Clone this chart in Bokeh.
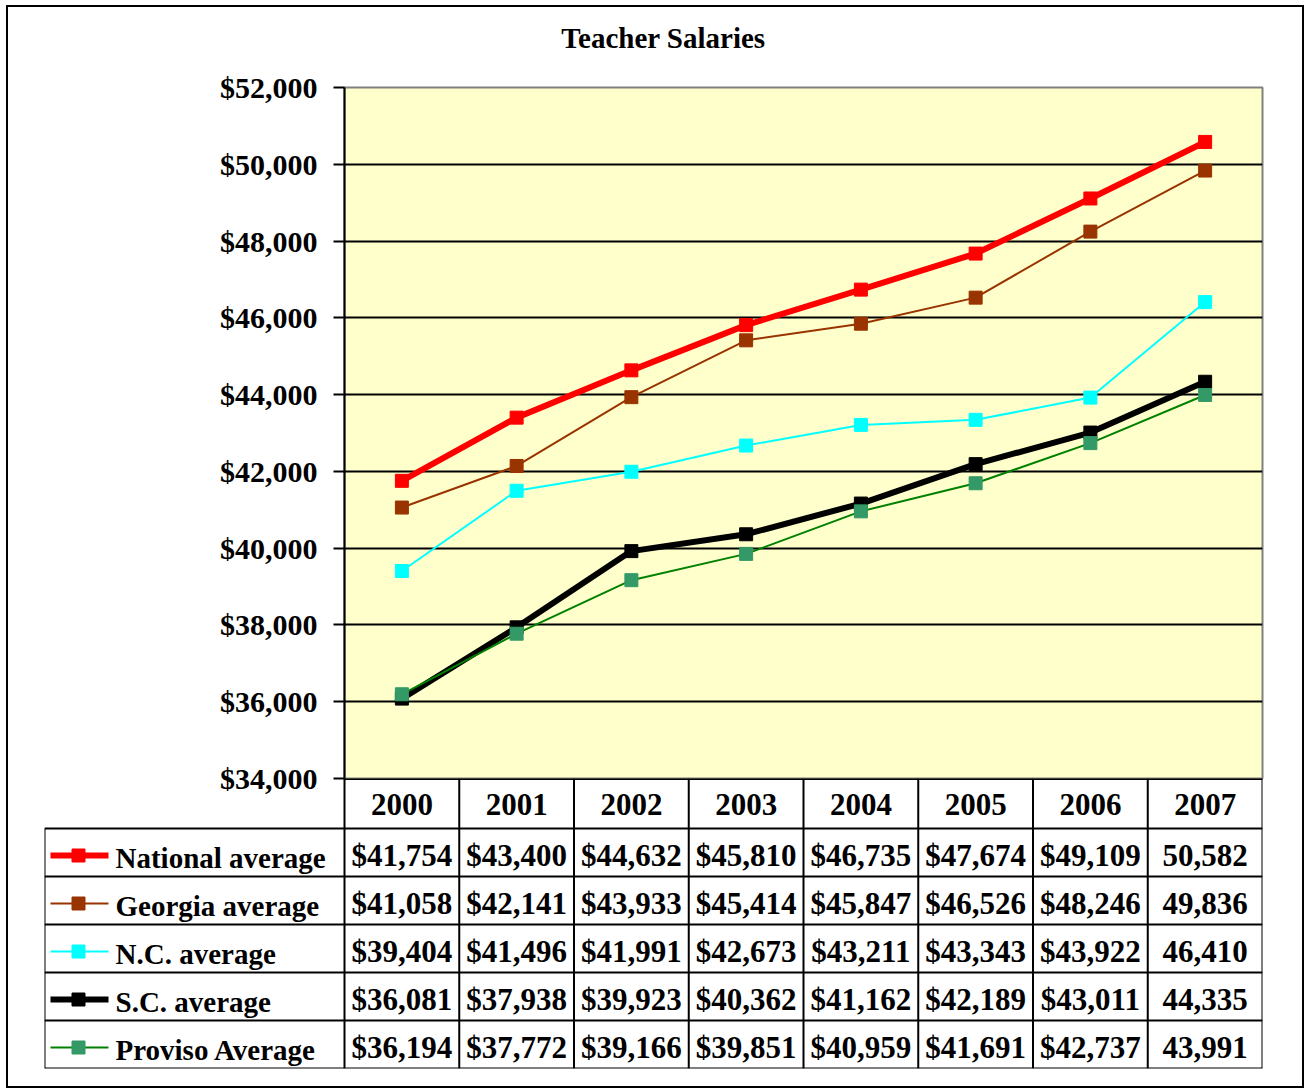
from bokeh.plotting import figure
from bokeh.layouts import column
from bokeh.models import (Range1d, FixedTicker, NumeralTickFormatter,
                          ColumnDataSource)
from bokeh.embed import file_html
from bokeh.resources import INLINE
from bokeh.core.properties import value

# ---------------- data ----------------
chart_title = "Teacher Salaries"
years = ["2000", "2001", "2002", "2003", "2004", "2005", "2006", "2007"]
national = [41754, 43400, 44632, 45810, 46735, 47674, 49109, 50582]
georgia = [41058, 42141, 43933, 45414, 45847, 46526, 48246, 49836]
nc = [39404, 41496, 41991, 42673, 43211, 43343, 43922, 46410]
sc = [36081, 37938, 39923, 40362, 41162, 42189, 43011, 44335]
proviso = [36194, 37772, 39166, 39851, 40959, 41691, 42737, 43991]
series_names = ["National average", "Georgia average", "N.C. average",
                "S.C. average", "Proviso Average"]
y_ticks = [34000, 36000, 38000, 40000, 42000, 44000, 46000, 48000, 50000, 52000]

# ---------------- styles ----------------
FONT = "Liberation Serif"
styles = [
    dict(line="#FF0000", marker="#FF0000", width=6),
    dict(line="#993300", marker="#993300", width=2),
    dict(line="#00FFFF", marker="#00FFFF", width=2),
    dict(line="#000000", marker="#000000", width=6),
    dict(line="#008000", marker="#339966", width=2),
]
all_series = [national, georgia, nc, sc, proviso]

TOTAL_W = 1294
LEFT_W = 336      # border left of plot area
FRAME_W = 918
RIGHT_W = TOTAL_W - LEFT_W - FRAME_W
TITLE_H = 60
TITLE_CX = 655
TOP_W = 20
FRAME_H = 691
OVERLAP = 20      # bottom border of chart overlapping the table
LABEL_COL = 300   # width of legend column in table
HEADER_H = 50
ROW_H = 48
TABLE_H = HEADER_H + ROW_H * 5
COL_PX = FRAME_W / len(years)

xs = [i + 0.5 for i in range(len(years))]

# ---------------- title strip ----------------
pt = figure(frame_width=TOTAL_W, frame_height=TITLE_H, min_border=0,
            x_range=Range1d(0, TOTAL_W), y_range=Range1d(TITLE_H, 0),
            output_backend="svg", toolbar_location=None,
            x_axis_location=None, y_axis_location=None)
pt.frame_align = False
pt.outline_line_color = None
pt.grid.visible = False
pt.background_fill_color = "white"
pt.border_fill_color = "white"
pt.text(x=[TITLE_CX], y=[TITLE_H / 2], text=[chart_title],
        text_font=value(FONT), text_font_style="bold", text_font_size="29px",
        text_align="center", text_baseline="middle", text_color="black")

# ---------------- chart ----------------
p1 = figure(frame_width=FRAME_W, frame_height=FRAME_H,
            min_border_left=LEFT_W, min_border_right=RIGHT_W,
            min_border_top=TOP_W, min_border_bottom=OVERLAP,
            x_range=Range1d(0, len(years)), y_range=Range1d(34000, 52000),
            output_backend="svg", toolbar_location=None,
            x_axis_location=None)
p1.frame_align = False
p1.background_fill_color = "#FFFFCC"
p1.border_fill_color = "white"
p1.outline_line_color = "#808080"
p1.outline_line_width = 2
p1.xgrid.visible = False
p1.ygrid.grid_line_color = "black"
p1.ygrid.grid_line_width = 2
p1.ygrid.ticker = FixedTicker(ticks=y_ticks)

ax = p1.yaxis[0]
ax.ticker = FixedTicker(ticks=y_ticks)
ax.formatter = NumeralTickFormatter(format="$0,0")
ax.axis_line_color = "black"
ax.axis_line_width = 2
ax.major_tick_line_width = 2
ax.major_tick_out = 11
ax.major_tick_in = 0
ax.minor_tick_line_color = None
ax.major_label_standoff = 16
ax.major_label_text_font = FONT
ax.major_label_text_font_style = "bold"
ax.major_label_text_font_size = "30px"
ax.major_label_text_color = "black"

for vals, st in zip(all_series, styles):
    src = ColumnDataSource(dict(x=xs, y=vals))
    p1.line("x", "y", source=src, line_color=st["line"], line_width=st["width"])
    p1.scatter("x", "y", source=src, marker="square", size=13,
               fill_color=st["marker"], line_color=st["marker"])

# ---------------- data table ----------------
lab_units = LABEL_COL / COL_PX
p2 = figure(frame_width=LABEL_COL + FRAME_W, frame_height=TABLE_H,
            min_border_left=LEFT_W - LABEL_COL, min_border_right=RIGHT_W,
            min_border_top=0, min_border_bottom=18,
            x_range=Range1d(-lab_units, len(years)),
            y_range=Range1d(TABLE_H, 0),
            output_backend="svg", toolbar_location=None,
            x_axis_location=None, y_axis_location=None,
            styles={"margin-top": f"-{OVERLAP}px"})
p2.frame_align = False
p2.outline_line_color = None
p2.grid.visible = False
p2.background_fill_color = None
p2.border_fill_color = None

# grid lines of table
row_tops = [HEADER_H + ROW_H * r for r in range(6)]
p2.segment(x0=[-lab_units] * len(row_tops), y0=row_tops,
           x1=[len(years)] * len(row_tops), y1=row_tops,
           line_color="black", line_width=2)
p2.segment(x0=[0], y0=[0], x1=[len(years)], y1=[0], line_color="black", line_width=3)
col_edges = list(range(len(years) + 1))
p2.segment(x0=col_edges, y0=[0] * len(col_edges), x1=col_edges,
           y1=[TABLE_H] * len(col_edges), line_color="black", line_width=2)
p2.segment(x0=[-lab_units], y0=[HEADER_H], x1=[-lab_units], y1=[TABLE_H],
           line_color="black", line_width=2)

# header
p2.text(x=xs, y=[HEADER_H / 2 + 1] * len(xs), text=years,
        text_font=value(FONT), text_font_style="bold", text_font_size="31px",
        text_align="center", text_baseline="middle", text_color="black")

# rows
for r, (name, vals, st) in enumerate(zip(series_names, all_series, styles)):
    yc = HEADER_H + ROW_H * r + ROW_H / 2
    labels = [("$" if i < len(vals) - 1 else "") + f"{v:,}" for i, v in enumerate(vals)]
    p2.text(x=xs, y=[yc + 3] * len(xs), text=labels,
            text_font=value(FONT), text_font_style="bold", text_font_size="31px",
            text_align="center", text_baseline="middle", text_color="black")
    # legend key
    kx0 = -lab_units + 6 / COL_PX
    kx1 = -lab_units + 64 / COL_PX
    km = -lab_units + 34 / COL_PX
    ky = yc + 3
    p2.segment(x0=[kx0], y0=[ky], x1=[kx1], y1=[ky], line_color=st["line"],
               line_width=st["width"])
    p2.scatter(x=[km], y=[ky], marker="square", size=13,
               fill_color=st["marker"], line_color=st["marker"])
    p2.text(x=[-lab_units + 71 / COL_PX], y=[yc + 5], text=[name],
            text_font=value(FONT), text_font_style="bold", text_font_size="29px",
            text_align="left", text_baseline="middle", text_color="black")

layout = column(pt, p1, p2, spacing=0,
                styles={"border": "2px solid black", "margin-left": "6px",
                        "margin-top": "5px", "background-color": "white"})

open("out.html", "w").write(file_html(layout, INLINE))
